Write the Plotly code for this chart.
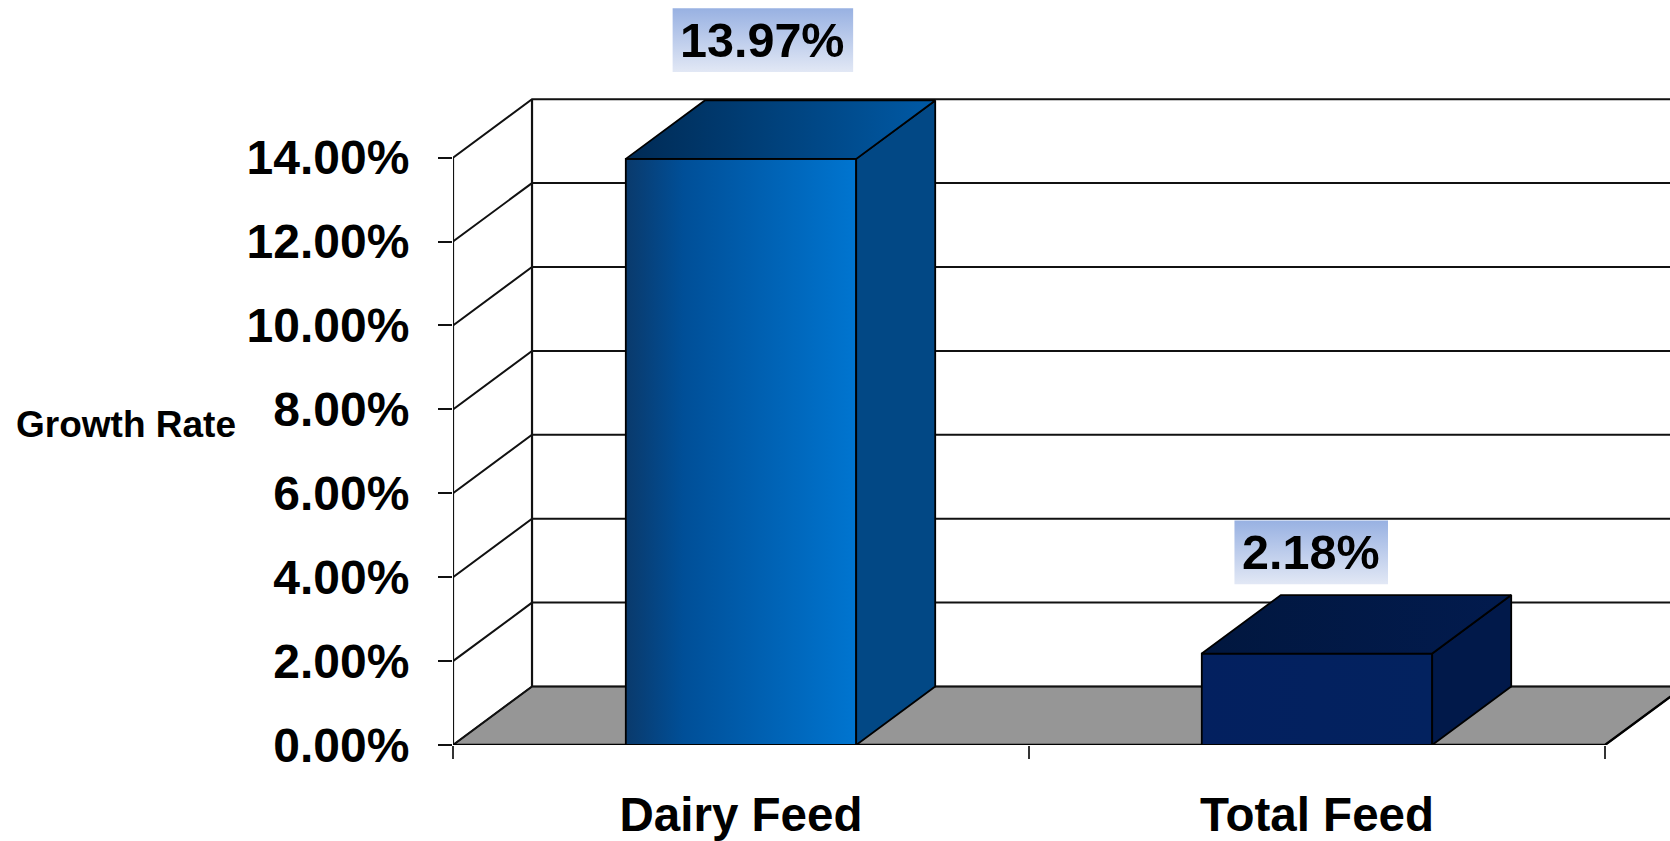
import plotly.graph_objects as go

# ---------------- data ----------------
categories = ["Dairy Feed", "Total Feed"]
growth = [0.1397, 0.0218]
value_labels = ["13.97%", "2.18%"]
y_ticks = [0.00, 0.02, 0.04, 0.06, 0.08, 0.10, 0.12, 0.14]
x_slot_edges = [0, 1, 2]

# ---------------- style ----------------
W, H = 1670, 841
FONT = "Liberation Sans, Arial, sans-serif"
ML = 453.3            # left margin (front wall x)
PLOT_BOTTOM = 746.7   # pixel y of 0 %
PX_PER_X = 575.85     # pixels per category slot
PX_PER_Y = 4205.0     # pixels per unit (1.0 = 100 %)
DEPTH_PX = (79.0, 58.6)
BAR_W = 0.40
LINE = "#111111"

front_grad = [
    [[0, "#0a3a6c"], [0.25, "#004f98"], [1, "#0075d0"]],
    [[0, "#03205f"], [1, "#03225f"]],
]
top_grad = [
    [[0, "#002a54"], [1, "#005aa6"]],
    [[0, "#01173f"], [1, "#021b4e"]],
]
side_color = ["#024885", "#01194a"]
label_dx = [0.038, -0.010]     # label box offset from bar centre (x units)
label_gap = [0.0207, 0.0165]   # label box bottom above value (y units)
LABEL_FS = 48.5
box_grad = [[0, "#e2e8f5"], [1, "#98b1e2"]]

plot_w = W - ML
xmax = plot_w / PX_PER_X
ymax = PLOT_BOTTOM / PX_PER_Y
DX = DEPTH_PX[0] / PX_PER_X
DY = DEPTH_PX[1] / PX_PER_Y
x_end = x_slot_edges[-1]

fig = go.Figure()

def poly(xs, ys, **kw):
    fig.add_trace(go.Scatter(x=xs + [xs[0]], y=ys + [ys[0]], mode="lines",
                             fill="toself", hoverinfo="skip", showlegend=False, **kw))

def lines(xs, ys, color=LINE, width=2.0):
    fig.add_trace(go.Scatter(x=xs, y=ys, mode="lines", hoverinfo="skip", showlegend=False,
                             line=dict(color=color, width=width)))

# floor
poly([0, x_end, x_end + DX, DX], [0, 0, DY, DY],
     fillcolor="#969696", line=dict(color="#3a3a3a", width=1.6))

# gridlines on left and back walls
gx, gy = [], []
for v in y_ticks:
    gx += [0, DX, xmax + 1, None]
    gy += [v, v + DY, v + DY, None]
lines(gx, gy, width=2.0)
# wall verticals
ytop = y_ticks[-1]
lines([0, 0, None, DX, DX], [0, ytop, None, DY, ytop + DY], width=2.2)
# floor front edge and right diagonal
lines([0, x_end, x_end + DX], [0, 0, DY], color="#000000", width=2.4)

# bars
for i, v in enumerate(growth):
    x0 = i + 0.5 - BAR_W / 2
    x1 = x0 + BAR_W
    edge = dict(color="#000000", width=1.8)
    poly([x0, x1, x1, x0], [0, 0, v, v], line=edge, fillcolor=front_grad[i][-1][1],
         fillgradient=dict(type="horizontal", colorscale=front_grad[i]))
    poly([x1, x1 + DX, x1 + DX, x1], [0, DY, v + DY, v], line=edge, fillcolor=side_color[i])
    poly([x0, x1, x1 + DX, x0 + DX], [v, v, v + DY, v + DY], line=edge, fillcolor=top_grad[i][-1][1],
         fillgradient=dict(type="horizontal", colorscale=top_grad[i]))

# value labels with gradient boxes
char_w = {d: 0.556 for d in "0123456789"}
char_w.update({".": 0.278, "%": 0.889})
for i, (v, txt) in enumerate(zip(growth, value_labels)):
    wpx = sum(char_w.get(c, 0.6) for c in txt) * LABEL_FS + 16
    hpx = 64
    cx = i + 0.5 + label_dx[i]
    half = wpx / 2 / PX_PER_X
    yb = v + label_gap[i]
    yt = yb + hpx / PX_PER_Y
    poly([cx - half, cx + half, cx + half, cx - half], [yb, yb, yt, yt],
         line=dict(width=0), fillcolor="#c0cfee",
         fillgradient=dict(type="vertical", colorscale=box_grad))
    fig.add_annotation(x=cx, y=(yb + yt) / 2, text=txt, showarrow=False,
                       xanchor="center", yanchor="middle",
                       font=dict(family=FONT, size=LABEL_FS, color="#000000", weight="bold"))

# axis title
fig.add_annotation(xref="paper", yref="paper", x=(14 - ML) / plot_w, y=1 - 425.5 / PLOT_BOTTOM,
                   xanchor="left", yanchor="middle", text="Growth Rate", showarrow=False,
                   font=dict(family=FONT, size=37, color="#000000", weight="bold"))

fig.update_layout(
    width=W, height=H,
    margin=dict(l=ML, r=0, t=0, b=H - PLOT_BOTTOM, pad=0),
    paper_bgcolor="white", plot_bgcolor="white",
    showlegend=False,
    xaxis=dict(range=[0, xmax], showgrid=False, zeroline=False, showline=False,
               tickvals=[0.5, 1.5], ticktext=categories, ticks="", ticklen=0,
               ticklabelstandoff=37,
               tickfont=dict(family=FONT, size=47.5, color="#000000", weight="bold"),
               minor=dict(tickvals=x_slot_edges, ticks="outside", ticklen=13,
                          tickcolor="#333333", tickwidth=1.5, showgrid=False),
               fixedrange=True),
    yaxis=dict(range=[0, ymax], showgrid=False, zeroline=False, showline=False,
               tickvals=y_ticks, tickformat=".2%", ticks="outside", ticklen=14,
               tickcolor="#111111", tickwidth=1.8, ticklabelstandoff=19,
               tickfont=dict(family=FONT, size=48, color="#000000", weight="bold"),
               fixedrange=True),
)

fig.write_html("out.html", config={"displayModeBar": False},
               post_script="document.body.style.margin='0';")
